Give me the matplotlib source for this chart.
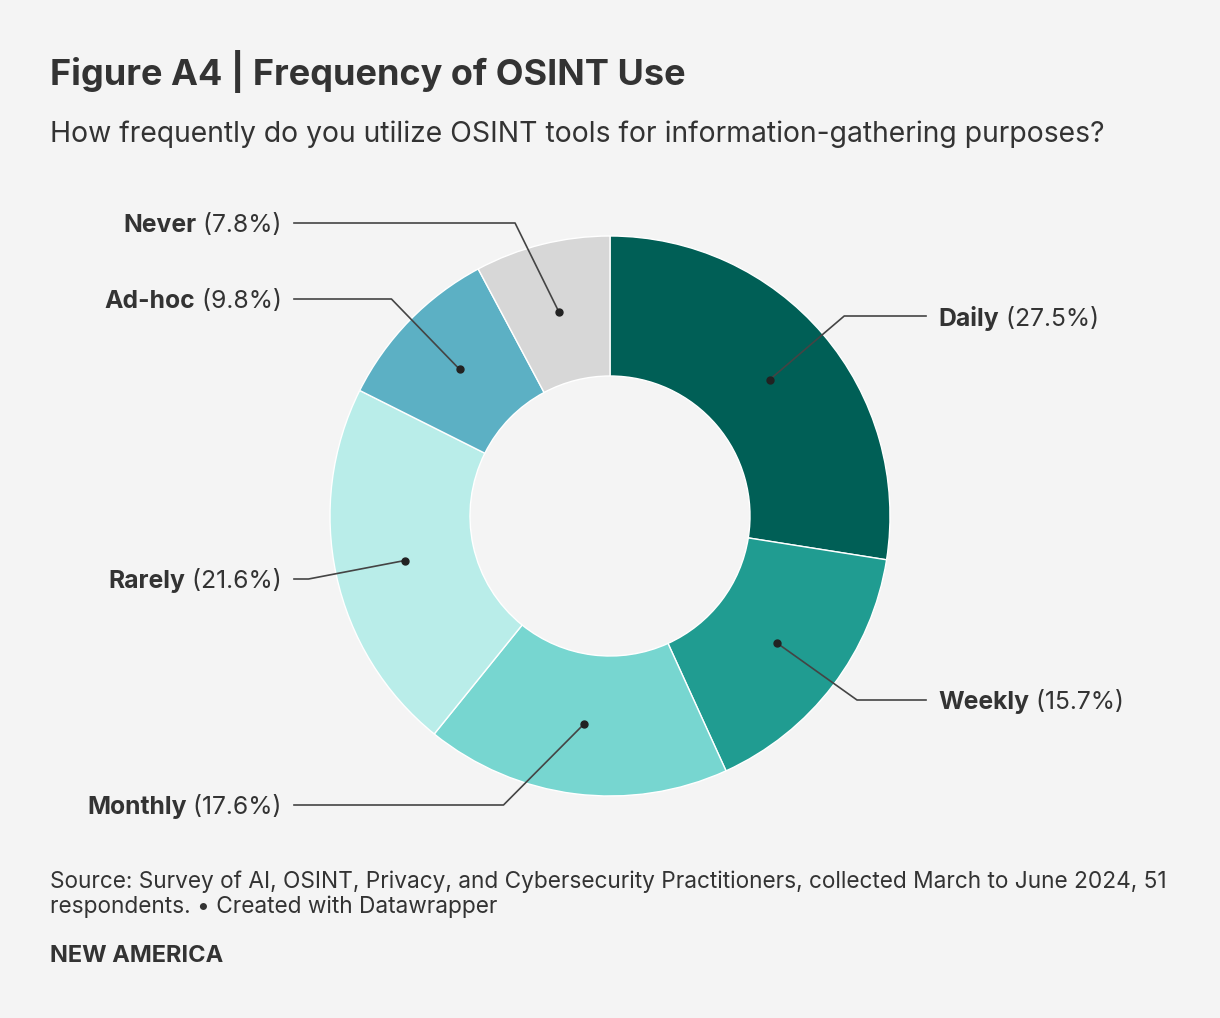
import numpy as np
import matplotlib.pyplot as plt

plt.rcParams["font.family"] = ["Inter", "DejaVu Sans"]

categories = ["Daily", "Weekly", "Monthly", "Rarely", "Ad-hoc", "Never"]
shares = [27.5, 15.7, 17.6, 21.6, 9.8, 7.8]
colors = ["#005f56", "#209c91", "#77d6d0", "#b9ede9", "#5cb0c4", "#d7d7d7"]
# vertical label offsets from the donut centre, in pixels (up is positive)
label_dy = [200, -184, -289, -63, 217, 293]

W, H = 1220, 1018
BG = "#f4f4f4"
TXT = "#333333"

fig = plt.figure(figsize=(W / 100, H / 100), dpi=100, facecolor=BG)
ax = fig.add_axes([0, 0, 1, 1])
ax.set_facecolor(BG)

cx, cy = 610, H - 516
R = 280

wedges, _ = ax.pie(
    shares,
    colors=colors,
    startangle=90,
    counterclock=False,
    center=(cx, cy),
    radius=R,
    wedgeprops=dict(width=R * 0.5, edgecolor="white", linewidth=1),
)
ax.set_xlim(0, W)
ax.set_ylim(0, H)
ax.set_aspect("equal")
ax.axis("off")

LBL = 17.8
for w, name, val, dy in zip(wedges, categories, shares, label_dy):
    ang = np.deg2rad((w.theta1 + w.theta2) / 2)
    px = cx + R * 0.75 * np.cos(ang)
    py = cy + R * 0.75 * np.sin(ang)
    side = 1 if np.cos(ang) > 0 else -1
    r_el = R * 1.1
    ex = cx + side * np.sqrt(max(r_el ** 2 - dy ** 2, 0))
    ey = cy + dy
    lx = cx + side * 316
    ax.plot([px, ex, lx], [py, ey, ey], color="#444444", lw=1.2, zorder=3)
    ax.plot(px, py, "o", color="#222222", ms=5, zorder=4)
    tx = cx + side * 328
    if side > 0:
        t = ax.text(tx, ey, name, ha="left", va="center_baseline",
                    fontsize=LBL, fontweight="bold", color=TXT)
        ax.annotate(f" ({val}%)", xycoords=t, xy=(1, 0), va="bottom",
                    fontsize=LBL, color=TXT)
    else:
        t = ax.text(tx, ey, f" ({val}%)", ha="right", va="center_baseline",
                    fontsize=LBL, color=TXT)
        ax.annotate(name, xycoords=t, xy=(0, 0), ha="right", va="bottom",
                    fontsize=LBL, fontweight="bold", color=TXT)

fig.text(50 / W, 1 - 85 / H, "Figure A4 | Frequency of OSINT Use",
         fontsize=26, fontweight="bold", color=TXT, va="baseline")
fig.text(50 / W, 1 - 142 / H,
         "How frequently do you utilize OSINT tools for information-gathering purposes?",
         fontsize=20.4, color=TXT, va="baseline")
fig.text(50 / W, 1 - 888 / H,
         "Source: Survey of AI, OSINT, Privacy, and Cybersecurity Practitioners, collected March to June 2024, 51",
         fontsize=16.3, color=TXT, va="baseline")
fig.text(50 / W, 1 - 913 / H, "respondents. \u2022 Created with Datawrapper",
         fontsize=16.3, color=TXT, va="baseline")
fig.text(50 / W, 1 - 962 / H, "NEW AMERICA",
         fontsize=17, fontweight="bold", color=TXT, va="baseline")

fig.savefig("out.png", dpi=100, facecolor=BG)
